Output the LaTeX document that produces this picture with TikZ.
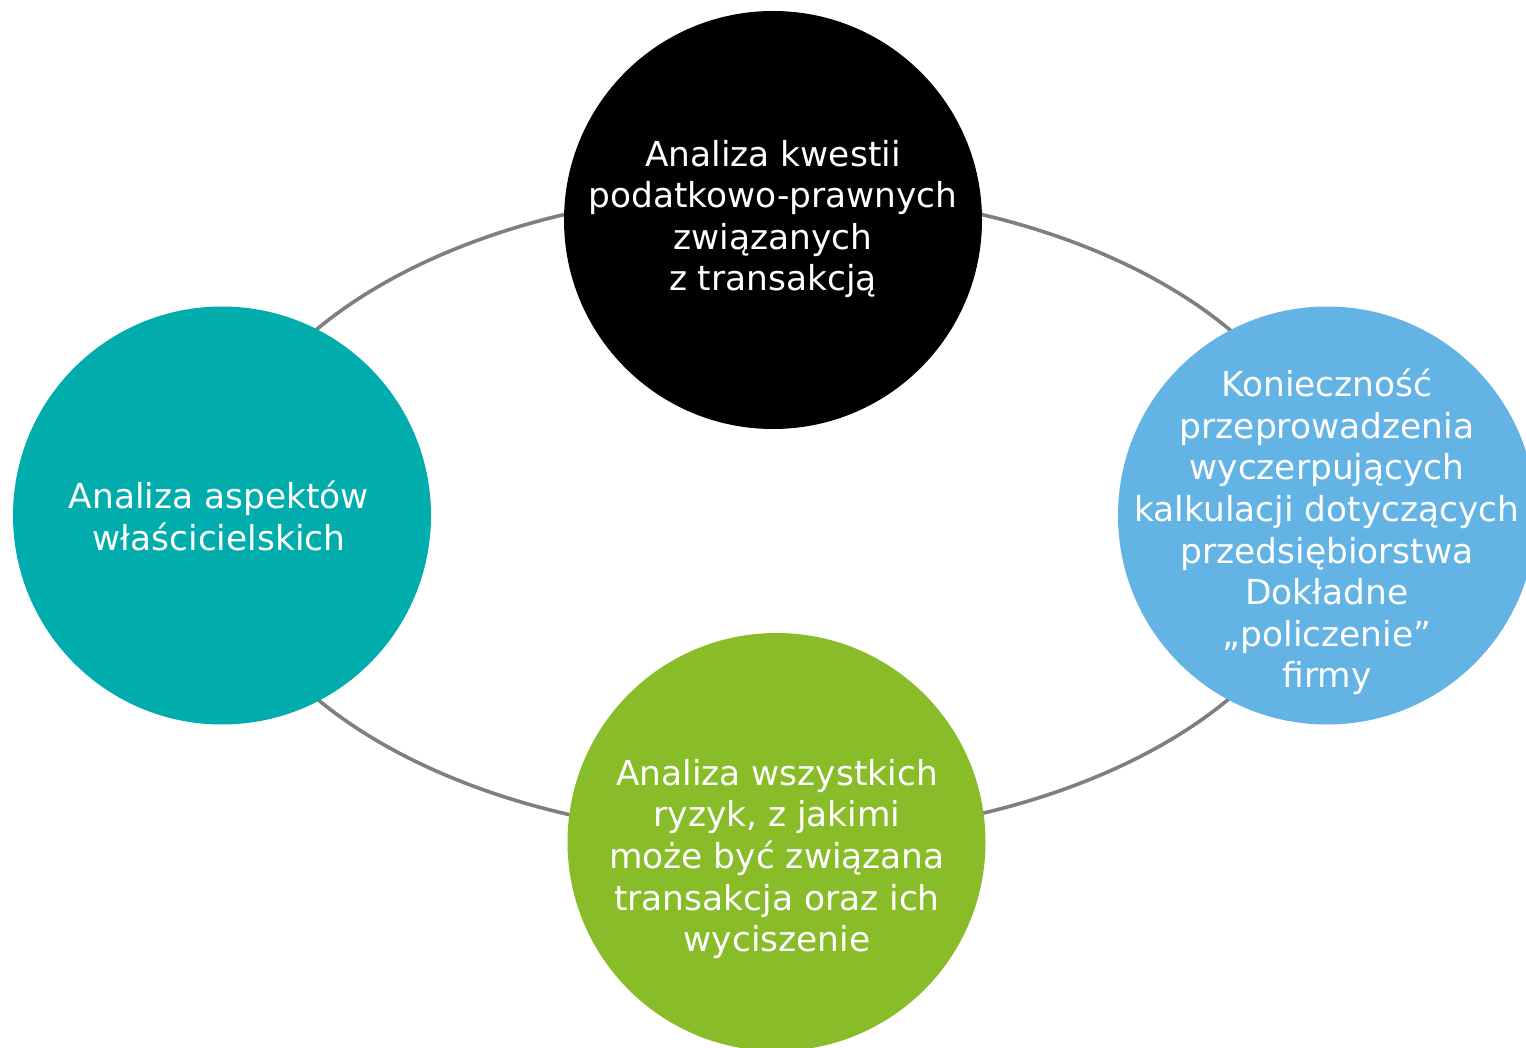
\documentclass[tikz,border=0pt]{standalone}
\usepackage{fontspec}
\setmainfont{DejaVu Sans}
\definecolor{ringgray}{HTML}{7F7F7F}
\definecolor{cteal}{HTML}{00ACAC}
\definecolor{cblue}{HTML}{63B4E4}
\definecolor{cgreen}{HTML}{88BC28}
\tikzset{
  ring/.style={draw=ringgray, line width=1.8pt},
  disc/.style={circle, minimum size=209pt, inner sep=0pt, draw=none},
  txt/.style={text=white, align=center, inner sep=0pt,
    font=\fontsize{17.2}{20.8}\selectfont}
}
\begin{document}
\begin{tikzpicture}[x=0.5pt,y=-0.5pt]
\useasboundingbox (0,0) rectangle (1526,1048);
\clip (0,0) rectangle (1526,1048);
\fill[white] (0,0) rectangle (1526,1048);
\coordinate (ec) at (773,514);
\draw[ring] (ec) ellipse [x radius=556, y radius=323];
\node[disc, fill=black] (ctop) at (773,220) {};
\node[disc, fill=cteal] (cleft) at (222,515.5) {};
\node[disc, fill=cblue] (cright) at (1327,515.5) {};
\node[disc, fill=cgreen] (cbot) at (776.5,842) {};
\node[txt] (ttop) at (773,219) {Analiza kwestii\\podatkowo-prawnych\\związanych\\z transakcją};
\node[txt] (tleft) at (219,516) {Analiza aspektów\\właścicielskich};
\node[txt] (tright) at (1327,532) {Konieczność\\przeprowadzenia\\wyczerpujących\\kalkulacji dotyczących\\przedsiębiorstwa\\Dokładne\\„policzenie”\\firmy};
\node[txt] (tbot) at (777,859) {Analiza wszystkich\\ryzyk, z jakimi\\może być związana\\transakcja oraz ich\\wyciszenie};
\end{tikzpicture}
\end{document}
